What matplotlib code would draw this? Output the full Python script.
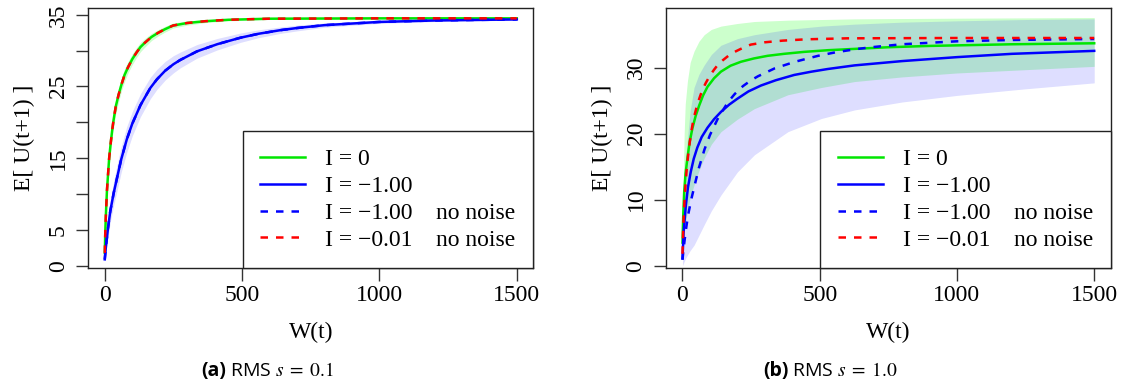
import numpy as np
import matplotlib.pyplot as plt
from matplotlib.lines import Line2D

plt.rcParams['font.family'] = ['Liberation Serif', 'DejaVu Serif']
plt.rcParams['mathtext.fontset'] = 'stix'

# no-noise curves (same in both panels)
w_nn_001 = [0, 2, 4, 8, 12.4, 16, 21.9, 27, 32, 40, 50, 61, 72, 85, 100, 115, 130, 146,
            170, 195, 220, 249, 300, 365, 450, 600, 1000, 1500]
u_nn_001 = [1.8, 4.8, 7, 10.5, 13, 15, 17.2, 18.9, 20.3, 22.2, 23.8, 25.3, 26.6, 27.7, 28.8,
            29.7, 30.5, 31.1, 31.9, 32.5, 33.0, 33.5, 33.85, 34.1, 34.3, 34.45, 34.5, 34.5]
w_nn_100 = [0, 4, 12, 20, 32.8, 45, 59.6, 80, 100, 130, 166, 190, 220, 250, 275, 336, 410,
            494, 560, 639, 700, 800, 1000, 1200, 1500]
u_nn_100 = [0.9, 2.6, 5.3, 7.6, 10.2, 12.3, 14.8, 17.6, 19.8, 22.4, 24.8, 26.0, 27.2, 28.1,
            28.7, 29.9, 30.9, 31.8, 32.35, 32.85, 33.15, 33.55, 34.0, 34.2, 34.35]

# (a) s = 0.1 : noisy curves sit on top of the no-noise ones
u_i0_s01 = list(u_nn_001)
u_i1_s01 = list(u_nn_100)
hw_i0_s01 = [0.3, 0.6, 0.8, 1.0, 1.1, 1.1, 1.1, 1.1, 1.1, 1.0, 1.0, 0.9, 0.9, 0.8, 0.75, 0.7,
             0.65, 0.6, 0.5, 0.45, 0.4, 0.35, 0.3, 0.2, 0.15, 0.1, 0.05, 0.05]
hw_i1_s01 = [0.2, 0.8, 1.3, 1.5, 1.7, 1.8, 1.8, 1.8, 1.7, 1.6, 1.5, 1.4, 1.3, 1.2, 1.1, 0.95,
             0.8, 0.65, 0.55, 0.45, 0.4, 0.3, 0.2, 0.15, 0.1]

# (b) s = 1.0
w_i0_s10 = [0, 3, 6.2, 11, 18, 26, 36, 48, 61, 75, 91, 115, 140, 175, 213, 260, 310, 370,
            444, 530, 627, 750, 900, 1200, 1500]
u_i0_s10 = [3.5, 8, 11.2, 13.9, 16.3, 18.7, 20.8, 22.7, 24.3, 25.8, 27.1, 28.4, 29.4, 30.3,
            30.9, 31.4, 31.8, 32.1, 32.4, 32.65, 32.85, 33.1, 33.3, 33.55, 33.7]
w_i1_s10 = [0, 4, 12.4, 20, 30, 41, 54, 70, 91, 115, 140, 170, 200, 240, 286, 340, 407, 470,
            529, 627, 800, 1000, 1200, 1500]
u_i1_s10 = [1.1, 5, 9.2, 11.9, 14.2, 16.2, 17.9, 19.5, 20.9, 22.2, 23.3, 24.4, 25.3, 26.4,
            27.3, 28.1, 28.9, 29.4, 29.8, 30.35, 31.0, 31.6, 32.1, 32.55]

w_band = [0, 3, 6, 10, 18, 28, 42, 60, 79, 105, 140, 200, 262, 384, 506, 627, 800, 1000, 1250, 1500]
i0_hi = [4, 13, 20, 24.5, 28, 30.8, 32.5, 34, 35, 35.8, 36.3, 36.7, 37, 37.2, 37.3, 37.4, 37.45, 37.5, 37.55, 37.6]
i0_lo = [1.5, 3.5, 5, 6.3, 8.2, 10.3, 12.2, 14.4, 16.3, 18.4, 20.3, 22.2, 23.8, 25.9, 27.0, 27.9, 28.6, 29.2, 29.7, 30.2]
i1_hi = [2, 8, 12, 15.5, 19.3, 23.5, 27, 29, 30.4, 32, 33.4, 34.4, 35, 35.8, 36.3, 36.6, 36.9, 37.1, 37.3, 37.4]
i1_lo = [0, 0.3, 0.6, 1.0, 1.6, 2.3, 3.1, 4.6, 6.2, 8.3, 10.7, 14.2, 16.8, 20.3, 22.3, 23.6, 24.8, 25.8, 26.8, 27.7]

GREEN, BLUE, RED = '#00e600', '#0000ff', '#ff0000'
FS = 17

fig = plt.figure(figsize=(11.26, 3.86), dpi=100)
ax1 = fig.add_axes([0.0784, 0.3049, 0.3952, 0.6736])
ax2 = fig.add_axes([0.5915, 0.3049, 0.3949, 0.6736])

# panel a
u0, h0 = np.array(u_i0_s01), np.array(hw_i0_s01)
u1, h1 = np.array(u_i1_s01), np.array(hw_i1_s01)
ax1.fill_between(w_nn_001, u0 - h0, u0 + h0, color=(0, 1, 0, 0.2), lw=0)
ax1.fill_between(w_nn_100, u1 - h1, u1 + h1, color=(0, 0, 1, 0.13), lw=0)
ax1.plot(w_nn_001, u_i0_s01, color=GREEN, lw=1.8)
ax1.plot(w_nn_100, u_i1_s01, color=BLUE, lw=1.8)
ax1.plot(w_nn_100, u_nn_100, color=BLUE, lw=1.8, dashes=(3, 3.2))
ax1.plot(w_nn_001, u_nn_001, color=RED, lw=1.8, dashes=(3, 3.2))

# panel b
ax2.fill_between(w_band, i0_lo, i0_hi, color=(0, 1, 0, 0.2), lw=0)
ax2.fill_between(w_band, i1_lo, i1_hi, color=(0, 0, 1, 0.13), lw=0)
ax2.plot(w_i0_s10, u_i0_s10, color=GREEN, lw=1.8)
ax2.plot(w_i1_s10, u_i1_s10, color=BLUE, lw=1.8)
ax2.plot(w_nn_100, u_nn_100, color=BLUE, lw=1.8, dashes=(3, 3.2))
ax2.plot(w_nn_001, u_nn_001, color=RED, lw=1.8, dashes=(3, 3.2))

ax1.set_ylim(-0.35, 35.9)
ax1.set_yticks(range(0, 36, 5))
ax1.set_yticklabels(['0', '5', '', '15', '', '25', '', '35'])
ax2.set_ylim(-0.4, 39.0)
ax2.set_yticks([0, 10, 20, 30])

handles = [Line2D([], [], color=GREEN, lw=1.8),
           Line2D([], [], color=BLUE, lw=1.8),
           Line2D([], [], color=BLUE, lw=1.8, dashes=(3, 3.2)),
           Line2D([], [], color=RED, lw=1.8, dashes=(3, 3.2))]
labels = ['I = 0', 'I = \u22121.00', 'I = \u22121.00    no noise', 'I = \u22120.01    no noise']

for ax in (ax1, ax2):
    ax.set_xlim(-60, 1560)
    ax.set_xticks([0, 500, 1000, 1500])
    for sp in ax.spines.values():
        sp.set_linewidth(1.0)
        sp.set_color('#222222')
    ax.tick_params(direction='out', length=9, width=1, color='#333333',
                   labelsize=FS)
    ax.tick_params(axis='x', pad=3)
    ax.tick_params(axis='y', pad=5)
    for lab in ax.get_yticklabels():
        lab.set_rotation(90)
        lab.set_va('center')
    ax.set_xlabel('W(t)', fontsize=FS, va='center')
    ax.xaxis.set_label_coords(0.5, -0.245)
    ax.set_ylabel('E[ U(t+1) ]', fontsize=FS, va='center')
    ax.yaxis.set_label_coords(-0.144, 0.5)
    leg = ax.legend(handles, labels, loc='lower right', bbox_to_anchor=(1, 0),
                    borderaxespad=0, fontsize=FS, fancybox=False,
                    edgecolor='#222222', framealpha=1, handlelength=1.9,
                    handletextpad=0.85, borderpad=0.75, labelspacing=0.22)
    leg.get_frame().set_linewidth(1.0)

fig.text(0.1791, 0.040, '(a)', family='Open Sans', weight='bold', fontsize=14, va='center')
fig.text(0.2045, 0.040, r'RMS $s\;=\;\mathrm{0.1}$', family='Open Sans', fontsize=14, va='center')
fig.text(0.6776, 0.040, '(b)', family='Open Sans', weight='bold', fontsize=14, va='center')
fig.text(0.7030, 0.040, r'RMS $s\;=\;\mathrm{1.0}$', family='Open Sans', fontsize=14, va='center')

plt.savefig('out.png', dpi=100)
